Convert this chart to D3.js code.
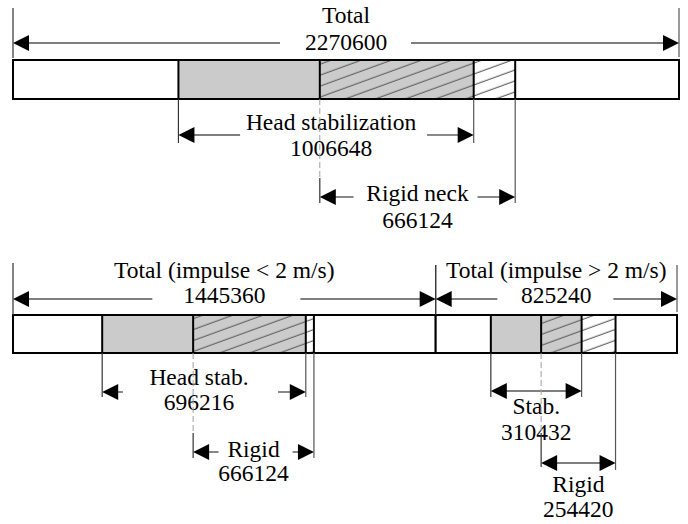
<!DOCTYPE html>
<html>
<head>
<meta charset="utf-8">
<script src="https://cdn.jsdelivr.net/npm/d3@7"></script>
<style>
  html, body { margin: 0; padding: 0; background: #fff; }
  svg { display: block; }
  svg text { font-family: "Liberation Serif", "Times New Roman", Times, "Tinos", "DejaVu Serif", serif; }
</style>
</head>
<body>
<svg id="chart" width="688" height="524"></svg>
<script>
// ---------------- data ----------------
const grandTotal = 2270600;
const panelNames = ["all", "low", "high"];
const totals = [2270600, 1445360, 825240];
const offsets = [0, 0, 1445360];               // where each panel starts along its row
const headLabels = ["Head stabilization", "Head stab.", "Stab."];
const headValues = [1006648, 696216, 310432];
const headStart = [564000, 305000, 1634000];    // estimated start of head-stabilization span
const rigidLabels = ["Rigid neck", "Rigid", "Rigid"];
const rigidValues = [666124, 666124, 254420];
const rigidStart = [1046000, 616000, 1806000];  // estimated start of rigid-neck span
const rigidDrawn = [666124, 413000, 254420];    // drawn length of rigid span
const totalLabels = ["Total", "Total (impulse < 2 m/s)", "Total (impulse > 2 m/s)"];

// ---------------- layout ----------------
const fs = 23.5;
const svg = d3.select("#chart");
const xScales = [
  d3.scaleLinear().domain([0, grandTotal]).range([13, 679]),
  d3.scaleLinear().domain([0, grandTotal]).range([13, 677])
];
const panelRow = [0, 1, 1];
const barY = [[60, 99], [315, 353]];

const defs = svg.append("defs");
function hatch(id, bg) {
  const p = defs.append("pattern").attr("id", id)
    .attr("patternUnits", "userSpaceOnUse")
    .attr("width", 40).attr("height", 10.3)
    .attr("patternTransform", "rotate(-20)");
  p.append("rect").attr("width", 40).attr("height", 10.3).attr("fill", bg);
  p.append("line").attr("x1", 0).attr("x2", 40).attr("y1", 5).attr("y2", 5)
    .attr("stroke", "#666").attr("stroke-width", 1.3);
}
hatch("hg", "#cbcbcb");
hatch("hw", "#ffffff");

const fills = ["#ffffff", "#cbcbcb", "url(#hg)", "url(#hw)", "#ffffff"];

// bars
panelNames.forEach((name, i) => {
  const x = xScales[panelRow[i]];
  const [y0, y1] = barY[panelRow[i]];
  const o = offsets[i];
  const hs = headStart[i];
  const rs = rigidStart[i];
  const bounds = [o, hs, rs, hs + headValues[i], rs + rigidDrawn[i], o + totals[i]];
  const segs = d3.range(5).map(k => ({a: bounds[k], b: bounds[k + 1], fill: fills[k]}));
  const g = svg.append("g").attr("class", "bar-" + name);
  g.selectAll("rect.seg").data(segs).join("rect").attr("class", "seg")
    .attr("x", d => x(d.a)).attr("width", d => x(d.b) - x(d.a))
    .attr("y", y0).attr("height", y1 - y0)
    .attr("fill", d => d.fill);
  g.selectAll("line.div").data(bounds.slice(1, 5)).join("line").attr("class", "div")
    .attr("x1", d => x(d)).attr("x2", d => x(d))
    .attr("y1", y0).attr("y2", y1)
    .attr("stroke", "#000").attr("stroke-width", 2);
  g.append("rect")
    .attr("x", x(o)).attr("width", x(o + totals[i]) - x(o))
    .attr("y", y0).attr("height", y1 - y0)
    .attr("fill", "none").attr("stroke", "#000").attr("stroke-width", 2);
});

// annotations (layout)
const annotations = [
  {p: 0, kind: "total", ay: 43, ly: 23, ny: 50, dx: 0, gap: [66, 65], ext: [[8, 58], [8, 57]]},
  {p: 0, kind: "head", ay: 135, ly: 130, ny: 156, dx: 5, gap: [91, 96], ext: [[99, 143], [99, 143]]},
  {p: 0, kind: "rigid", ay: 197, ly: 201, ny: 228, dx: 0, gap: [64, 60], ext: [[99, 203], [99, 203]], dashTo: 178},
  {p: 1, kind: "total", ay: 299, ly: 278, ny: 303, dx: 0, gap: [72, 76], ext: [[263, 315], [265, 315]]},
  {p: 2, kind: "total", ay: 299, ly: 278, ny: 303, dx: 0, gap: [59, 57], ext: [[265, 315], [265, 312]]},
  {p: 1, kind: "head", ay: 392, ly: 385, ny: 410, dx: -5, gap: [76, 79], ext: [[353, 397], [353, 397]]},
  {p: 1, kind: "rigid", ay: 452, ly: 457, ny: 481, dx: 0, gap: [35, 39], ext: [[353, 458], [353, 458]], dashTo: 433},
  {p: 2, kind: "head", ay: 391, ly: 414, ny: 440, dx: 0, gap: [0, 0], ext: [[353, 397], [353, 397]]},
  {p: 2, kind: "rigid", ay: 463, ly: 492, ny: 517, dx: 0, gap: [0, 0], ext: [[353, 467], [353, 470]], dashTo: 433}
];

const AL = 16, AH = 8;
annotations.forEach(a => {
  const i = a.p;
  const x = xScales[panelRow[i]];
  let s, e, label, value;
  if (a.kind === "total") { s = offsets[i]; e = offsets[i] + totals[i]; label = totalLabels[i]; value = totals[i]; }
  else if (a.kind === "head") { s = headStart[i]; e = headStart[i] + headValues[i]; label = headLabels[i]; value = headValues[i]; }
  else { s = rigidStart[i]; e = rigidStart[i] + rigidDrawn[i]; label = rigidLabels[i]; value = rigidValues[i]; }
  const x0 = x(s), x1 = x(e);
  const cx = (x0 + x1) / 2 + a.dx;
  const g = svg.append("g");
  if (a.dashTo) {
    g.append("line").attr("x1", x0).attr("x2", x0).attr("y1", a.ext[0][0]).attr("y2", a.dashTo)
      .attr("stroke", "#a0a0a0").attr("stroke-width", 1).attr("stroke-dasharray", "6,3");
    g.append("line").attr("x1", x0).attr("x2", x0).attr("y1", a.dashTo).attr("y2", a.ext[0][1])
      .attr("stroke", "#333").attr("stroke-width", 1.2);
  } else {
    g.append("line").attr("x1", x0).attr("x2", x0).attr("y1", a.ext[0][0]).attr("y2", a.ext[0][1])
      .attr("stroke", "#333").attr("stroke-width", 1.2);
  }
  g.append("line").attr("x1", x1).attr("x2", x1).attr("y1", a.ext[1][0]).attr("y2", a.ext[1][1])
    .attr("stroke", "#555").attr("stroke-width", 1.2);
  if (a.gap[0] === 0 && a.gap[1] === 0) {
    g.append("line").attr("x1", x0 + AL - 1).attr("x2", x1 - AL + 1).attr("y1", a.ay).attr("y2", a.ay)
      .attr("stroke", "#555").attr("stroke-width", 1.4);
  } else {
    g.append("line").attr("x1", x0 + AL - 1).attr("x2", cx - a.gap[0]).attr("y1", a.ay).attr("y2", a.ay)
      .attr("stroke", "#555").attr("stroke-width", 1.4);
    g.append("line").attr("x1", cx + a.gap[1]).attr("x2", x1 - AL + 1).attr("y1", a.ay).attr("y2", a.ay)
      .attr("stroke", "#555").attr("stroke-width", 1.4);
  }
  g.append("path").attr("d", `M${x0},${a.ay}L${x0 + AL},${a.ay - AH}L${x0 + AL},${a.ay + AH}Z`).attr("fill", "#000");
  g.append("path").attr("d", `M${x1},${a.ay}L${x1 - AL},${a.ay - AH}L${x1 - AL},${a.ay + AH}Z`).attr("fill", "#000");
  g.append("text").attr("x", cx).attr("y", a.ly).attr("text-anchor", "middle")
    .attr("font-size", fs).attr("fill", "#000").text(label);
  g.append("text").attr("x", cx).attr("y", a.ny).attr("text-anchor", "middle")
    .attr("font-size", fs).attr("fill", "#000").text(String(value));
});
</script>
</body>
</html>
